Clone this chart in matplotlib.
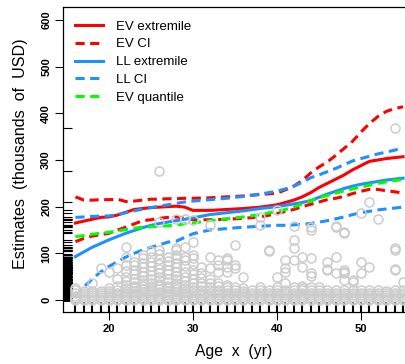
import matplotlib
matplotlib.use("Agg")
import matplotlib.pyplot as plt

plt.rcParams["font.family"] = ["Liberation Sans", "DejaVu Sans"]

# observed ages (yr) and wages (thousands of USD), one list per age
ages = list(range(16, 56))
wages = [
    [0, 2, 5, 9, 14, 21, 25],
    [0, 3, 6, 10, 15, 20],
    [0, 2, 6, 10, 15, 20, 36],
    [0, 3, 7, 11, 15, 20, 68],
    [0, 3, 6, 10, 14, 20, 25, 59],
    [0, 3, 7, 11, 16, 22, 30, 45, 68],
    [0, 3, 6, 10, 14, 19, 25, 32, 40, 50, 62, 75, 93, 114],
    [0, 3, 6, 10, 14, 19, 25, 31, 38, 46, 55, 64, 75, 82],
    [0, 2, 5, 9, 13, 18, 23, 29, 36, 43, 51, 60, 70, 80, 90, 96],
    [0, 3, 6, 10, 14, 19, 24, 30, 37, 45, 54, 63, 72, 82, 92, 104],
    [0, 2, 5, 9, 13, 18, 23, 29, 35, 42, 50, 58, 67, 77, 88, 98, 107, 168, 277],
    [0, 3, 6, 10, 14, 19, 25, 31, 38, 46, 55, 64, 74, 84, 93],
    [0, 2, 5, 9, 13, 18, 24, 30, 37, 44, 52, 60, 70, 80, 91, 96, 107, 111, 174],
    [0, 3, 6, 10, 15, 20, 26, 33, 41, 50, 60, 72, 85, 93, 114, 174],
    [0, 3, 6, 10, 15, 21, 28, 36, 45, 55, 65, 77, 89, 96, 125, 171],
    [0, 3, 7, 11, 16, 22, 29, 37, 47, 58, 70],
    [0, 3, 6, 10, 15, 21, 28, 36, 45, 68, 93, 161],
    [0, 3, 7, 11, 16, 22, 29, 36, 61, 75, 86],
    [0, 3, 6, 10, 15, 21, 27, 32, 60, 71, 86, 90],
    [0, 3, 7, 11, 16, 22, 28, 68, 75, 118],
    [0, 3, 6, 10, 15, 20, 26, 50],
    [0, 3, 7, 11, 16, 22],
    [0, 3, 6, 10, 15, 21, 28, 161, 178],
    [0, 3, 7, 11, 16, 22, 104, 107],
    [0, 3, 6, 10, 15, 21, 28, 50, 193],
    [0, 3, 7, 11, 16, 22, 36, 61, 68, 86],
    [0, 3, 6, 10, 15, 21, 28, 86, 111, 129, 159],
    [0, 3, 7, 11, 16, 22, 25, 30, 71, 93],
    [0, 3, 6, 10, 15, 21, 28, 52, 57, 89, 150, 156],
    [0, 3, 7, 11, 16, 22, 28],
    [0, 3, 6, 10, 15, 21, 64, 66, 82],
    [0, 3, 7, 11, 16, 22, 57, 93, 157, 159],
    [0, 3, 6, 10, 15, 21, 43, 57, 61, 64, 143, 145],
    [0, 3, 7, 11, 16, 22, 39, 43],
    [0, 3, 6, 10, 15, 21, 57, 82, 186],
    [0, 3, 7, 11, 16, 22, 71, 211],
    [0, 3, 6, 10, 15, 21, 173],
    [0, 3, 7, 11, 16, 20],
    [0, 3, 6, 10, 15, 21, 64, 66, 107, 111, 368],
    [0, 3, 7, 11, 16, 22, 39],
]

# estimated curves
x_grid = [16, 17, 18, 19, 20, 21, 22, 23, 24, 25, 26, 27, 28, 29, 30,
          32, 34, 36, 38, 40, 41, 42, 43, 44, 45, 46, 47, 48, 49, 50,
          51, 52, 53, 54, 55]
ev_ext = [165, 169, 173, 177, 178, 182, 188, 194, 196, 198, 199, 200, 201, 199, 192,
          192, 194, 196, 199, 204, 209, 214, 221, 230, 241, 250, 259, 268, 279, 288,
          297, 300, 303, 305, 307]
ev_hi = [221, 214, 214, 215, 215, 216, 211, 212, 214, 216, 216, 217, 217, 218, 218,
         219, 221, 223, 226, 229, 236, 244, 256, 272, 285, 296, 310, 325, 340, 360,
         378, 393, 404, 410, 414]
ev_lo = [125, 132, 137, 140, 143, 150, 156, 163, 170, 172, 175, 177, 178, 176, 172,
         172, 173, 175, 178, 185, 190, 194, 200, 205, 210, 215, 218, 222, 228, 233,
         237, 237, 234, 232, 229]
ll_ext = [93, 103, 113, 121, 129, 136, 143, 149, 155, 160, 164, 167, 170, 173, 176,
          183, 187, 191, 196, 200, 203, 206, 209, 213, 220, 227, 233, 239, 244, 248,
          251, 254, 257, 259, 261]
ll_hi = [177, 178, 179, 180, 180, 183, 187, 191, 195, 198, 201, 204, 207, 210, 212,
         215, 218, 222, 227, 233, 238, 244, 252, 262, 268, 275, 282, 290, 298, 303,
         308, 313, 317, 321, 326]
ll_lo = [7, 28, 45, 60, 72, 82, 92, 100, 107, 113, 118, 124, 126, 134, 142,
         150, 153, 156, 158, 160, 160, 161, 162, 164, 167, 170, 174, 178, 183, 187,
         190, 193, 195, 197, 199]
ev_q = [136, 138, 141, 143, 145, 148, 151, 154, 156, 157, 158, 159, 161, 163, 165,
        170, 174, 178, 183, 190, 194, 199, 206, 212, 219, 224, 229, 234, 238, 242,
        246, 250, 253, 256, 258]

red = "#FF0000"
blue = "#1E90FF"
green = "#00FF00"
dash = (3, 1.8)

fig = plt.figure(figsize=(4.05, 3.64), dpi=100)
ax = fig.add_axes([63 / 405, 52 / 364, 342 / 405, 305 / 364])

lw = 2.2
ax.plot(x_grid, ev_ext, color=red, lw=lw, label="EV extremile")
ax.plot(x_grid, ev_hi, color=red, lw=lw, dashes=dash, label="EV CI")
ax.plot(x_grid, ev_lo, color=red, lw=lw, dashes=dash)
ax.plot(x_grid, ll_ext, color=blue, lw=lw, label="LL extremile")
ax.plot(x_grid, ll_hi, color=blue, lw=lw, dashes=dash, label="LL CI")
ax.plot(x_grid, ll_lo, color=blue, lw=lw, dashes=dash)
ax.plot(x_grid, ev_q, color=green, lw=lw, dashes=dash, label="EV quantile")

xs, ys = [], []
for a, vals in zip(ages, wages):
    for v in vals:
        xs.append(a)
        ys.append(v)
ax.plot(xs, ys, "o", ms=6.5, mfc="none", mec="#CCCCCC", mew=1.1, zorder=3)

# rugs
ax.vlines(ages, 0, 0.033, transform=ax.get_xaxis_transform(), color="black", lw=1.5)
ax.hlines(ys, 0, 0.027, transform=ax.get_yaxis_transform(), color="black", lw=0.8)

ax.set_xlim(14.52, 55.24)
ax.set_ylim(-25.7, 627.8)
ax.set_xticks([20, 30, 40, 50])
ax.set_yticks([0, 100, 200, 300, 400, 500, 600])
ax.tick_params(length=5.5, width=0.8, labelsize=8, pad=3)
for t in ax.get_xticklabels():
    t.set_fontweight("bold")
for t in ax.get_yticklabels():
    t.set_fontweight("bold")
    t.set_rotation(90)
    t.set_va("center")
ax.spines["right"].set_visible(False)
for s in ["left", "top", "bottom"]:
    ax.spines[s].set_linewidth(0.9)

ax.set_xlabel("Age  x  (yr)", fontsize=11.3, labelpad=7)
ax.set_ylabel("Estimates  (thousands  of  USD)", fontsize=11.6)
ax.yaxis.set_label_coords(-0.103, 0.52)

ax.legend(loc="upper left", bbox_to_anchor=(0.0, 0.995), frameon=False,
          fontsize=9.5, handlelength=2.1, handletextpad=1.0, labelspacing=0.42)

fig.savefig("out.png", dpi=100)
